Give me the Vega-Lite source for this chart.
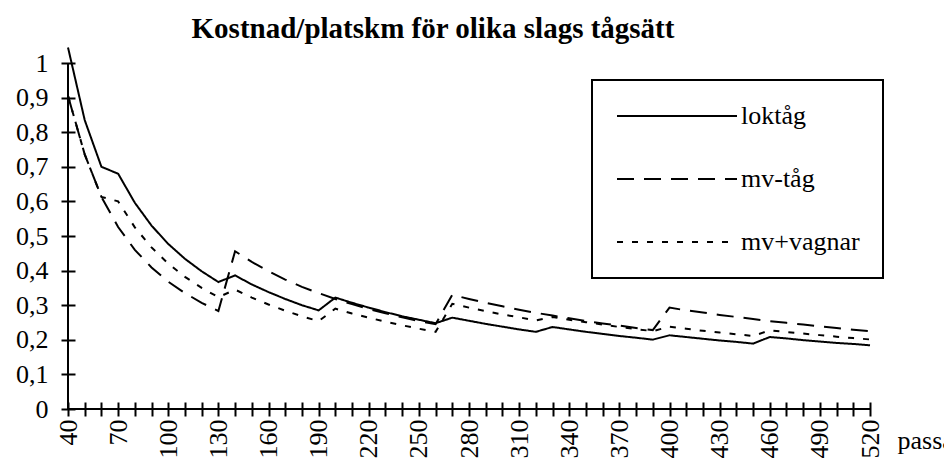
{
  "$schema": "https://vega.github.io/schema/vega-lite/v6.json",
  "width": 802,
  "height": 346,
  "autosize": "none",
  "padding": {"left": 68, "top": 63, "right": 74, "bottom": 59},
  "background": "white",
  "title": {"text": "Kostnad/platskm för olika slags tågsätt", "font": "Liberation Serif, Times New Roman, serif", "fontSize": 29, "fontWeight": "bold", "color": "black", "anchor": "middle", "frame": "group", "dx": -36, "offset": -1},
  "config": {
    "view": {"stroke": null},
    "axis": {"labelFont": "Liberation Serif, Times New Roman, serif", "labelFontSize": 26, "labelColor": "black", "tickColor": "black", "tickWidth": 2, "grid": false, "titleFont": "Liberation Serif, Times New Roman, serif", "titleFontSize": 26, "titleFontWeight": "normal", "titleColor": "black"}
  },
  "data": {"values": [
    {"n": 40, "loktåg": 1.045, "mv-tåg": 0.905, "mv+vagnar": 0.905},
    {"n": 50, "loktåg": 0.835, "mv-tåg": 0.736, "mv+vagnar": 0.736},
    {"n": 60, "loktåg": 0.70, "mv-tåg": 0.613, "mv+vagnar": 0.613},
    {"n": 70, "loktåg": 0.68, "mv-tåg": 0.526, "mv+vagnar": 0.60},
    {"n": 80, "loktåg": 0.596, "mv-tåg": 0.46, "mv+vagnar": 0.525},
    {"n": 90, "loktåg": 0.53, "mv-tåg": 0.409, "mv+vagnar": 0.467},
    {"n": 100, "loktåg": 0.477, "mv-tåg": 0.368, "mv+vagnar": 0.42},
    {"n": 110, "loktåg": 0.434, "mv-tåg": 0.335, "mv+vagnar": 0.382},
    {"n": 120, "loktåg": 0.398, "mv-tåg": 0.307, "mv+vagnar": 0.35},
    {"n": 130, "loktåg": 0.367, "mv-tåg": 0.283, "mv+vagnar": 0.323},
    {"n": 140, "loktåg": 0.386, "mv-tåg": 0.456, "mv+vagnar": 0.345},
    {"n": 150, "loktåg": 0.36, "mv-tåg": 0.425, "mv+vagnar": 0.322},
    {"n": 160, "loktåg": 0.338, "mv-tåg": 0.398, "mv+vagnar": 0.302},
    {"n": 170, "loktåg": 0.318, "mv-tåg": 0.374, "mv+vagnar": 0.284},
    {"n": 180, "loktåg": 0.30, "mv-tåg": 0.353, "mv+vagnar": 0.268},
    {"n": 190, "loktåg": 0.285, "mv-tåg": 0.335, "mv+vagnar": 0.254},
    {"n": 200, "loktåg": 0.322, "mv-tåg": 0.318, "mv+vagnar": 0.29},
    {"n": 210, "loktåg": 0.307, "mv-tåg": 0.303, "mv+vagnar": 0.276},
    {"n": 220, "loktåg": 0.293, "mv-tåg": 0.289, "mv+vagnar": 0.264},
    {"n": 230, "loktåg": 0.28, "mv-tåg": 0.277, "mv+vagnar": 0.252},
    {"n": 240, "loktåg": 0.268, "mv-tåg": 0.265, "mv+vagnar": 0.242},
    {"n": 250, "loktåg": 0.258, "mv-tåg": 0.254, "mv+vagnar": 0.232},
    {"n": 260, "loktåg": 0.248, "mv-tåg": 0.245, "mv+vagnar": 0.223},
    {"n": 270, "loktåg": 0.264, "mv-tåg": 0.33, "mv+vagnar": 0.304},
    {"n": 280, "loktåg": 0.255, "mv-tåg": 0.318, "mv+vagnar": 0.293},
    {"n": 290, "loktåg": 0.246, "mv-tåg": 0.307, "mv+vagnar": 0.283},
    {"n": 300, "loktåg": 0.238, "mv-tåg": 0.297, "mv+vagnar": 0.273},
    {"n": 310, "loktåg": 0.23, "mv-tåg": 0.287, "mv+vagnar": 0.265},
    {"n": 320, "loktåg": 0.223, "mv-tåg": 0.278, "mv+vagnar": 0.256},
    {"n": 330, "loktåg": 0.237, "mv-tåg": 0.27, "mv+vagnar": 0.266},
    {"n": 340, "loktåg": 0.23, "mv-tåg": 0.262, "mv+vagnar": 0.258},
    {"n": 350, "loktåg": 0.223, "mv-tåg": 0.254, "mv+vagnar": 0.251},
    {"n": 360, "loktåg": 0.217, "mv-tåg": 0.247, "mv+vagnar": 0.244},
    {"n": 370, "loktåg": 0.211, "mv-tåg": 0.241, "mv+vagnar": 0.237},
    {"n": 380, "loktåg": 0.206, "mv-tåg": 0.234, "mv+vagnar": 0.231},
    {"n": 390, "loktåg": 0.2005, "mv-tåg": 0.228, "mv+vagnar": 0.225},
    {"n": 400, "loktåg": 0.213, "mv-tåg": 0.293, "mv+vagnar": 0.238},
    {"n": 410, "loktåg": 0.208, "mv-tåg": 0.285, "mv+vagnar": 0.232},
    {"n": 420, "loktåg": 0.203, "mv-tåg": 0.279, "mv+vagnar": 0.226},
    {"n": 430, "loktåg": 0.198, "mv-tåg": 0.272, "mv+vagnar": 0.221},
    {"n": 440, "loktåg": 0.194, "mv-tåg": 0.266, "mv+vagnar": 0.216},
    {"n": 450, "loktåg": 0.189, "mv-tåg": 0.26, "mv+vagnar": 0.211},
    {"n": 460, "loktåg": 0.208, "mv-tåg": 0.254, "mv+vagnar": 0.2275},
    {"n": 470, "loktåg": 0.204, "mv-tåg": 0.249, "mv+vagnar": 0.2226},
    {"n": 480, "loktåg": 0.199, "mv-tåg": 0.244, "mv+vagnar": 0.218},
    {"n": 490, "loktåg": 0.195, "mv-tåg": 0.239, "mv+vagnar": 0.2135},
    {"n": 500, "loktåg": 0.191, "mv-tåg": 0.234, "mv+vagnar": 0.209},
    {"n": 510, "loktåg": 0.188, "mv-tåg": 0.229, "mv+vagnar": 0.205},
    {"n": 520, "loktåg": 0.184, "mv-tåg": 0.225, "mv+vagnar": 0.201}
  ]},
  "layer": [
    {
      "transform": [{"fold": ["loktåg", "mv-tåg", "mv+vagnar"], "as": ["serie", "v"]}],
      "mark": {"type": "line", "color": "black", "strokeWidth": 2, "clip": false},
      "encoding": {
        "x": {"field": "n", "type": "quantitative", "scale": {"domain": [40, 520], "nice": false, "zero": false},
          "axis": {"values": [40,50,60,70,80,90,100,110,120,130,140,150,160,170,180,190,200,210,220,230,240,250,260,270,280,290,300,310,320,330,340,350,360,370,380,390,400,410,420,430,440,450,460,470,480,490,500,510,520],
            "tickCount": 200,
            "labelExpr": "datum.value % 30 == 10 ? datum.label : ''", "labelAngle": -90, "labelAlign": "right", "labelBaseline": "middle", "labelOverlap": false, "labelPadding": 3,
            "offset": -7, "tickSize": 14, "domain": false,
            "title": "passagerare", "titleX": 829, "titleY": 46, "titleAlign": "left", "titleBaseline": "alphabetic", "titleAngle": 0}},
        "y": {"field": "v", "type": "quantitative", "scale": {"domain": [0, 1], "nice": false, "zero": true},
          "axis": {"values": [0,0.1,0.2,0.3,0.4,0.5,0.6,0.7,0.8,0.9,1], "tickCount": 50, "labelOverlap": false,
            "labelExpr": "replace(format(datum.value, '.1~f'), '.', ',')",
            "offset": -7, "tickSize": 14, "domain": false, "labelPadding": 13, "title": null}},
        "strokeDash": {"field": "serie", "type": "nominal",
          "scale": {"domain": ["loktåg", "mv-tåg", "mv+vagnar"], "range": [[1, 0], [17, 10], [6, 9]]},
          "legend": {"title": null, "orient": "none", "legendX": 524, "legendY": 17, "strokeColor": "black", "fillColor": "white", "padding": 23,
            "symbolType": "M-6,0H6", "symbolSize": 400, "symbolStrokeWidth": 2, "symbolStrokeColor": "black", "symbolFillColor": "transparent", "symbolOffset": 49,
            "labelOffset": 51, "labelFont": "Liberation Serif, Times New Roman, serif", "labelFontSize": 26, "labelColor": "black", "rowPadding": 37,
            "encode": {"legend": {"update": {"strokeWidth": {"value": 2}}}}}}
      }
    },
    {
      "data": {"values": [{}]},
      "mark": {"type": "rule", "color": "black", "strokeWidth": 2},
      "encoding": {"x": {"datum": 40}}
    },
    {
      "data": {"values": [{}]},
      "mark": {"type": "rule", "color": "black", "strokeWidth": 2},
      "encoding": {"y": {"datum": 0}}
    }
  ]
}
